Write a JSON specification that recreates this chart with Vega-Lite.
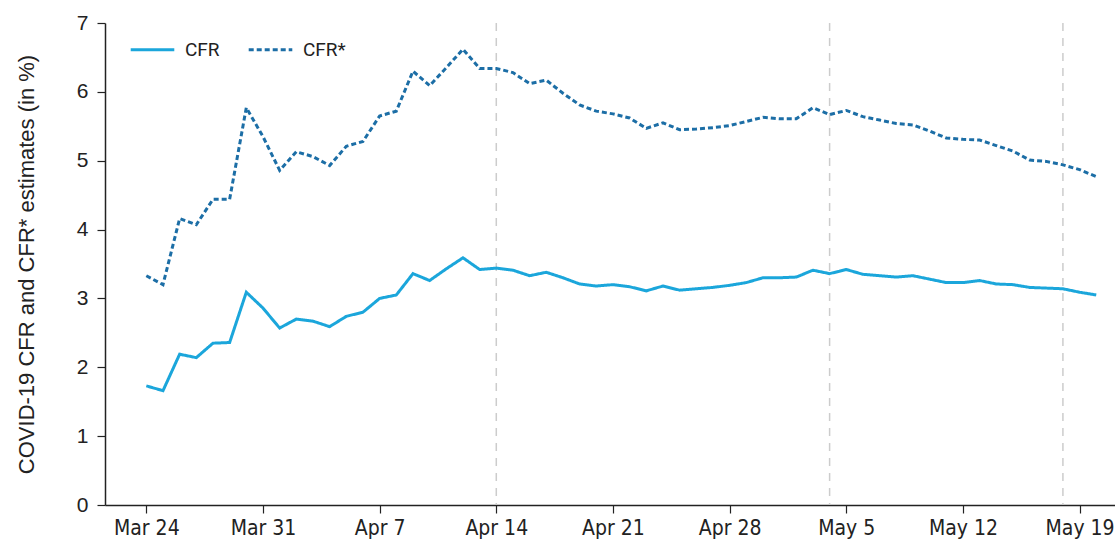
{
  "$schema": "https://vega.github.io/schema/vega-lite/v6.json",
  "width": 1010,
  "height": 482,
  "autosize": {"type": "none"},
  "padding": {"left": 105, "top": 23, "right": 0, "bottom": 44},
  "background": "white",
  "config": {"view": {"stroke": null}},
  "datasets": {
    "cfr": [
      {"date": "2020-03-24", "series": "CFR", "value": 1.73},
      {"date": "2020-03-25", "series": "CFR", "value": 1.66},
      {"date": "2020-03-26", "series": "CFR", "value": 2.19},
      {"date": "2020-03-27", "series": "CFR", "value": 2.14},
      {"date": "2020-03-28", "series": "CFR", "value": 2.35},
      {"date": "2020-03-29", "series": "CFR", "value": 2.36},
      {"date": "2020-03-30", "series": "CFR", "value": 3.09},
      {"date": "2020-03-31", "series": "CFR", "value": 2.86},
      {"date": "2020-04-01", "series": "CFR", "value": 2.57},
      {"date": "2020-04-02", "series": "CFR", "value": 2.70},
      {"date": "2020-04-03", "series": "CFR", "value": 2.67},
      {"date": "2020-04-04", "series": "CFR", "value": 2.59},
      {"date": "2020-04-05", "series": "CFR", "value": 2.74},
      {"date": "2020-04-06", "series": "CFR", "value": 2.80},
      {"date": "2020-04-07", "series": "CFR", "value": 3.00},
      {"date": "2020-04-08", "series": "CFR", "value": 3.05},
      {"date": "2020-04-09", "series": "CFR", "value": 3.36},
      {"date": "2020-04-10", "series": "CFR", "value": 3.26},
      {"date": "2020-04-11", "series": "CFR", "value": 3.43},
      {"date": "2020-04-12", "series": "CFR", "value": 3.59},
      {"date": "2020-04-13", "series": "CFR", "value": 3.42},
      {"date": "2020-04-14", "series": "CFR", "value": 3.44},
      {"date": "2020-04-15", "series": "CFR", "value": 3.41},
      {"date": "2020-04-16", "series": "CFR", "value": 3.33},
      {"date": "2020-04-17", "series": "CFR", "value": 3.38},
      {"date": "2020-04-18", "series": "CFR", "value": 3.30},
      {"date": "2020-04-19", "series": "CFR", "value": 3.21},
      {"date": "2020-04-20", "series": "CFR", "value": 3.18},
      {"date": "2020-04-21", "series": "CFR", "value": 3.20},
      {"date": "2020-04-22", "series": "CFR", "value": 3.17},
      {"date": "2020-04-23", "series": "CFR", "value": 3.11},
      {"date": "2020-04-24", "series": "CFR", "value": 3.18},
      {"date": "2020-04-25", "series": "CFR", "value": 3.12},
      {"date": "2020-04-26", "series": "CFR", "value": 3.14},
      {"date": "2020-04-27", "series": "CFR", "value": 3.16},
      {"date": "2020-04-28", "series": "CFR", "value": 3.19},
      {"date": "2020-04-29", "series": "CFR", "value": 3.23},
      {"date": "2020-04-30", "series": "CFR", "value": 3.30},
      {"date": "2020-05-01", "series": "CFR", "value": 3.30},
      {"date": "2020-05-02", "series": "CFR", "value": 3.31},
      {"date": "2020-05-03", "series": "CFR", "value": 3.41},
      {"date": "2020-05-04", "series": "CFR", "value": 3.36},
      {"date": "2020-05-05", "series": "CFR", "value": 3.42},
      {"date": "2020-05-06", "series": "CFR", "value": 3.35},
      {"date": "2020-05-07", "series": "CFR", "value": 3.33},
      {"date": "2020-05-08", "series": "CFR", "value": 3.31},
      {"date": "2020-05-09", "series": "CFR", "value": 3.33},
      {"date": "2020-05-10", "series": "CFR", "value": 3.28},
      {"date": "2020-05-11", "series": "CFR", "value": 3.23},
      {"date": "2020-05-12", "series": "CFR", "value": 3.23},
      {"date": "2020-05-13", "series": "CFR", "value": 3.26},
      {"date": "2020-05-14", "series": "CFR", "value": 3.21},
      {"date": "2020-05-15", "series": "CFR", "value": 3.20},
      {"date": "2020-05-16", "series": "CFR", "value": 3.16},
      {"date": "2020-05-17", "series": "CFR", "value": 3.15},
      {"date": "2020-05-18", "series": "CFR", "value": 3.14},
      {"date": "2020-05-19", "series": "CFR", "value": 3.09},
      {"date": "2020-05-20", "series": "CFR", "value": 3.05},
      {"date": "2020-03-24", "series": "CFR*", "value": 3.33},
      {"date": "2020-03-25", "series": "CFR*", "value": 3.20},
      {"date": "2020-03-26", "series": "CFR*", "value": 4.16},
      {"date": "2020-03-27", "series": "CFR*", "value": 4.07},
      {"date": "2020-03-28", "series": "CFR*", "value": 4.44},
      {"date": "2020-03-29", "series": "CFR*", "value": 4.44},
      {"date": "2020-03-30", "series": "CFR*", "value": 5.77},
      {"date": "2020-03-31", "series": "CFR*", "value": 5.35},
      {"date": "2020-04-01", "series": "CFR*", "value": 4.86},
      {"date": "2020-04-02", "series": "CFR*", "value": 5.13},
      {"date": "2020-04-03", "series": "CFR*", "value": 5.06},
      {"date": "2020-04-04", "series": "CFR*", "value": 4.93},
      {"date": "2020-04-05", "series": "CFR*", "value": 5.21},
      {"date": "2020-04-06", "series": "CFR*", "value": 5.28},
      {"date": "2020-04-07", "series": "CFR*", "value": 5.65},
      {"date": "2020-04-08", "series": "CFR*", "value": 5.72},
      {"date": "2020-04-09", "series": "CFR*", "value": 6.30},
      {"date": "2020-04-10", "series": "CFR*", "value": 6.09},
      {"date": "2020-04-11", "series": "CFR*", "value": 6.35},
      {"date": "2020-04-12", "series": "CFR*", "value": 6.62},
      {"date": "2020-04-13", "series": "CFR*", "value": 6.34},
      {"date": "2020-04-14", "series": "CFR*", "value": 6.34},
      {"date": "2020-04-15", "series": "CFR*", "value": 6.28},
      {"date": "2020-04-16", "series": "CFR*", "value": 6.12},
      {"date": "2020-04-17", "series": "CFR*", "value": 6.17},
      {"date": "2020-04-18", "series": "CFR*", "value": 5.98},
      {"date": "2020-04-19", "series": "CFR*", "value": 5.81},
      {"date": "2020-04-20", "series": "CFR*", "value": 5.72},
      {"date": "2020-04-21", "series": "CFR*", "value": 5.68},
      {"date": "2020-04-22", "series": "CFR*", "value": 5.62},
      {"date": "2020-04-23", "series": "CFR*", "value": 5.47},
      {"date": "2020-04-24", "series": "CFR*", "value": 5.55},
      {"date": "2020-04-25", "series": "CFR*", "value": 5.45},
      {"date": "2020-04-26", "series": "CFR*", "value": 5.46},
      {"date": "2020-04-27", "series": "CFR*", "value": 5.48},
      {"date": "2020-04-28", "series": "CFR*", "value": 5.51},
      {"date": "2020-04-29", "series": "CFR*", "value": 5.57},
      {"date": "2020-04-30", "series": "CFR*", "value": 5.63},
      {"date": "2020-05-01", "series": "CFR*", "value": 5.61},
      {"date": "2020-05-02", "series": "CFR*", "value": 5.61},
      {"date": "2020-05-03", "series": "CFR*", "value": 5.77},
      {"date": "2020-05-04", "series": "CFR*", "value": 5.67},
      {"date": "2020-05-05", "series": "CFR*", "value": 5.73},
      {"date": "2020-05-06", "series": "CFR*", "value": 5.64},
      {"date": "2020-05-07", "series": "CFR*", "value": 5.59},
      {"date": "2020-05-08", "series": "CFR*", "value": 5.54},
      {"date": "2020-05-09", "series": "CFR*", "value": 5.52},
      {"date": "2020-05-10", "series": "CFR*", "value": 5.43},
      {"date": "2020-05-11", "series": "CFR*", "value": 5.33},
      {"date": "2020-05-12", "series": "CFR*", "value": 5.31},
      {"date": "2020-05-13", "series": "CFR*", "value": 5.30},
      {"date": "2020-05-14", "series": "CFR*", "value": 5.22},
      {"date": "2020-05-15", "series": "CFR*", "value": 5.14},
      {"date": "2020-05-16", "series": "CFR*", "value": 5.01},
      {"date": "2020-05-17", "series": "CFR*", "value": 4.99},
      {"date": "2020-05-18", "series": "CFR*", "value": 4.94},
      {"date": "2020-05-19", "series": "CFR*", "value": 4.87},
      {"date": "2020-05-20", "series": "CFR*", "value": 4.77}
    ],
    "marks": [
      {"date": "2020-04-14"},
      {"date": "2020-05-04"},
      {"date": "2020-05-18"}
    ]
  },
  "layer": [
    {
      "data": {"name": "marks"},
      "mark": {"type": "rule", "color": "#cccccc", "strokeWidth": 1.5, "strokeDash": [8, 7]},
      "encoding": {
        "x": {"field": "date", "type": "temporal", "scale": {"type": "utc"}}
      }
    },
    {
      "data": {"name": "cfr"},
      "mark": {"type": "line", "strokeWidth": 3, "strokeJoin": "miter"},
      "encoding": {
        "x": {
          "field": "date",
          "type": "temporal",
          "scale": {"type": "utc", "domain": ["2020-03-21T12:30:00Z", "2020-05-21T03:00:00Z"]},
          "axis": {
            "title": null,
            "grid": false,
            "values": [
              {"year": 2020, "month": 3, "date": 24, "utc": true},
              {"year": 2020, "month": 3, "date": 31, "utc": true},
              {"year": 2020, "month": 4, "date": 7, "utc": true},
              {"year": 2020, "month": 4, "date": 14, "utc": true},
              {"year": 2020, "month": 4, "date": 21, "utc": true},
              {"year": 2020, "month": 4, "date": 28, "utc": true},
              {"year": 2020, "month": 5, "date": 5, "utc": true},
              {"year": 2020, "month": 5, "date": 12, "utc": true},
              {"year": 2020, "month": 5, "date": 19, "utc": true}
            ],
            "format": "%b %-d",
            "domainColor": "#222222",
            "domainWidth": 1.5,
            "tickColor": "#222222",
            "tickWidth": 1.2,
            "tickSize": 8,
            "labelPadding": 4,
            "labelFont": "Liberation Sans Narrow, DejaVu Sans Condensed, Roboto, sans-serif",
            "labelFontSize": 21,
            "labelColor": "#222222",
            "labelFlush": false
          }
        },
        "y": {
          "field": "value",
          "type": "quantitative",
          "scale": {"domain": [0, 7], "nice": false, "zero": true},
          "axis": {
            "title": "COVID-19 CFR and CFR* estimates (in %)",
            "titleFont": "Liberation Sans, Arial, sans-serif",
            "titleFontSize": 22,
            "titleFontWeight": "normal",
            "titleColor": "#222222",
            "titlePadding": 38,
            "grid": false,
            "values": [0, 1, 2, 3, 4, 5, 6, 7],
            "domainColor": "#222222",
            "domainWidth": 1.5,
            "tickColor": "#222222",
            "tickWidth": 1.2,
            "tickSize": 8,
            "labelPadding": 9,
            "labelFont": "Liberation Sans, Arial, sans-serif",
            "labelFontSize": 21,
            "labelColor": "#222222"
          }
        },
        "color": {
          "field": "series",
          "type": "nominal",
          "scale": {"domain": ["CFR", "CFR*"], "range": ["#1ba6db", "#1c6ea6"]},
          "legend": {
            "title": null,
            "orient": "none",
            "legendX": 24,
            "legendY": 3,
            "direction": "horizontal",
            "symbolType": "stroke",
            "symbolSize": 1900,
            "symbolStrokeWidth": 3,
            "labelFont": "Roboto, sans-serif",
            "labelFontSize": 19,
            "labelColor": "#222222",
            "labelOffset": 9,
            "columnPadding": 22
          }
        },
        "strokeDash": {
          "field": "series",
          "type": "nominal",
          "scale": {"domain": ["CFR", "CFR*"], "range": [[1, 0], [5, 3]]},
          "legend": null
        }
      }
    }
  ]
}
